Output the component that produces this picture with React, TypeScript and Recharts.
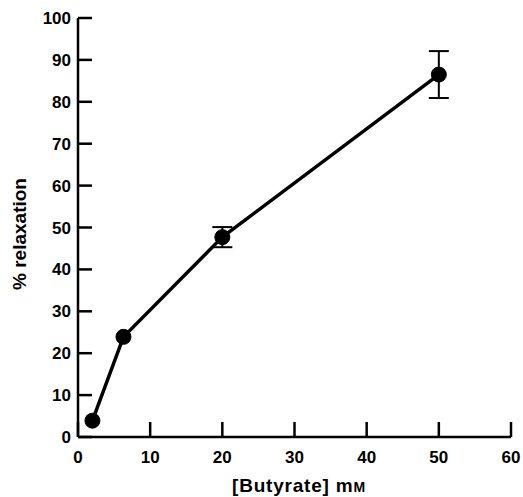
import React from 'react';
import { LineChart, Line, XAxis, YAxis, ErrorBar } from 'recharts';

const concentrations = [2, 6.3, 20, 50];
const relaxation = [3.9, 23.9, 47.7, 86.5];
const sem = [null, null, 2.4, 5.6];

const xTicks = [0, 10, 20, 30, 40, 50, 60];
const yTicks = [0, 10, 20, 30, 40, 50, 60, 70, 80, 90, 100];

const data = concentrations.map((c, i) => ({
  conc: c,
  relax: relaxation[i],
  err: sem[i] ?? undefined,
}));

const FONT = '"Liberation Sans", Arial, Helvetica, sans-serif';

const YTick = (props: any) => {
  const { x, y, payload } = props;
  return (
    <g>
      <line x1={x} y1={y} x2={x + 14} y2={y} stroke="#000" strokeWidth={2.5} />
      <text x={x - 7} y={y + 6} textAnchor="end" fontFamily={FONT} fontWeight="bold" fontSize={17} fill="#000">
        {payload.value}
      </text>
    </g>
  );
};

const XTick = (props: any) => {
  const { x, y, payload } = props;
  return (
    <g>
      <line x1={x} y1={y} x2={x} y2={y - 15} stroke="#000" strokeWidth={2.5} />
      <text x={x} y={y + 26} textAnchor="middle" fontFamily={FONT} fontWeight="bold" fontSize={17} fill="#000">
        {payload.value}
      </text>
    </g>
  );
};

export default function App() {
  return (
    <div style={{ position: 'absolute', left: 0, top: 0, background: '#fff' }}>
      <LineChart width={523} height={497} data={data} margin={{ top: 18, right: 12, bottom: 0, left: 0 }}>
        <XAxis
          dataKey="conc"
          type="number"
          domain={[0, 60]}
          ticks={xTicks}
          height={60}
          tickSize={0}
          tickMargin={0}
          tickLine={false}
          tick={<XTick />}
          axisLine={{ stroke: '#000', strokeWidth: 2.5 }}
          label={() => (
            <text
              x={299}
              y={492}
              textAnchor="middle"
              fontFamily={FONT}
              fontWeight="bold"
              fontSize={19}
              letterSpacing={0.8}
              fill="#000"
            >
              [Butyrate] m<tspan fontSize={14}>M</tspan>
            </text>
          )}
        />
        <YAxis
          type="number"
          domain={[0, 100]}
          ticks={yTicks}
          width={78}
          tickSize={0}
          tickMargin={0}
          tickLine={false}
          tick={<YTick />}
          axisLine={{ stroke: '#000', strokeWidth: 2.5 }}
          label={() => (
            <text
              x={19}
              y={234}
              transform="rotate(-90 19 234)"
              textAnchor="middle"
              dominantBaseline="central"
              fontFamily={FONT}
              fontWeight="bold"
              fontSize={19}
              fill="#000"
            >
              % relaxation
            </text>
          )}
        />
        <Line
          dataKey="relax"
          stroke="#000"
          strokeWidth={3.5}
          dot={{ r: 7.5, fill: '#000', stroke: '#000', strokeWidth: 1 }}
          activeDot={false}
          isAnimationActive={false}
        >
          <ErrorBar dataKey="err" width={10} stroke="#000" strokeWidth={2} direction="y" />
        </Line>
      </LineChart>
    </div>
  );
}
